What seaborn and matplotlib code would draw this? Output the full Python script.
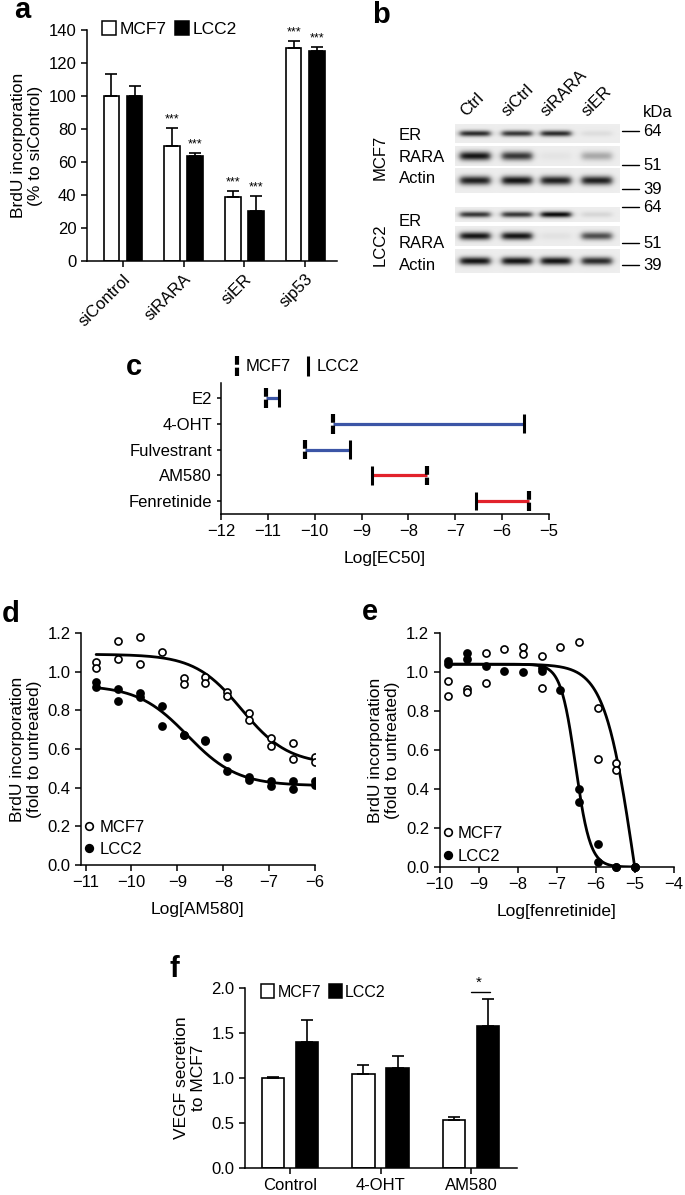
import numpy as np
import pandas as pd
import seaborn as sns
import matplotlib.pyplot as plt
from matplotlib.patches import Patch
from matplotlib.lines import Line2D

# panel a - BrdU incorporation after siRNA knockdown
si_groups = ["siControl", "siRARA", "siER", "sip53"]
a_mcf7 = [100, 70, 39, 129]
a_mcf7_err = [13.5, 10.5, 3.5, 4.5]
a_lcc2 = [100, 63.5, 30.5, 127.5]
a_lcc2_err = [6, 2, 9, 2.5]
a_stars_mcf7 = ["", "***", "***", "***"]
a_stars_lcc2 = ["", "***", "***", "***"]

# panel b - western blot band intensities (0 none .. 1 strong), lanes x rows
lanes = ["Ctrl", "siCtrl", "siRARA", "siER"]
blot_rows = ["ER", "RARA", "Actin"]
blot_mcf7 = [[0.85, 0.8, 0.85, 0.07],
             [0.95, 0.8, 0.04, 0.3],
             [0.9, 0.95, 0.9, 0.9]]
blot_lcc2 = [[0.8, 0.8, 1.0, 0.1],
             [0.95, 0.95, 0.05, 0.7],
             [0.95, 0.95, 0.95, 0.85]]
kda_mcf7 = ["64", "51", "39"]
kda_lcc2 = ["64", "51", "39"]

# panel c - log EC50 per drug
drugs = ["E2", "4-OHT", "Fulvestrant", "AM580", "Fenretinide"]
ec50_mcf7 = [-11.05, -9.6, -10.2, -7.6, -5.43]
ec50_lcc2 = [-10.76, -5.54, -9.25, -8.78, -6.56]
drug_target = ["ER", "ER", "ER", "RA", "RA"]

# panel d - AM580 dose response (two replicates)
am580_conc = [-10.77, -10.30, -9.82, -9.34, -8.86, -8.39, -7.91, -7.43, -6.95, -6.48, -6.0]
d_mcf7_r1 = [1.05, 1.16, 1.18, 1.10, 0.965, 0.97, 0.893, 0.787, 0.657, 0.632, 0.557]
d_mcf7_r2 = [1.02, 1.065, 1.04, np.nan, 0.936, 0.94, 0.876, 0.75, 0.618, 0.549, 0.531]
d_lcc2_r1 = [0.948, 0.91, 0.888, 0.823, 0.674, 0.649, 0.557, 0.454, 0.437, 0.437, 0.432]
d_lcc2_r2 = [0.919, 0.85, 0.871, 0.721, 0.67, 0.64, 0.485, 0.44, 0.407, 0.394, 0.416]
# fitted curve params: top, bottom, logEC50, hill
d_fit_mcf7 = (1.09, 0.52, -7.6, 0.85)
d_fit_lcc2 = (0.93, 0.41, -8.78, 0.8)

# panel e - fenretinide dose response
fen_conc = [-9.77, -9.30, -8.82, -8.34, -7.86, -7.39, -6.91, -6.43, -5.95, -5.48, -5.0]
e_mcf7_r1 = [0.955, 0.914, 1.10, 1.118, 1.126, 1.08, 1.128, 1.154, 0.815, 0.533, 0.0]
e_mcf7_r2 = [0.878, 0.90, 0.944, np.nan, 1.092, 0.92, np.nan, np.nan, 0.555, 0.50, 0.0]
e_lcc2_r1 = [1.054, 1.097, 1.03, 1.007, 1.0, 1.02, 0.909, 0.40, 0.118, 0.0, 0.0]
e_lcc2_r2 = [1.041, 1.067, np.nan, np.nan, np.nan, 1.003, np.nan, 0.331, 0.024, 0.0, np.nan]
e_fit_mcf7 = (1.04, -1.0, -5.02, 1.15)
e_fit_lcc2 = (1.04, 0.0, -6.52, 2.3)

# panel f - VEGF secretion
f_groups = ["Control", "4-OHT", "AM580"]
f_mcf7 = [1.0, 1.05, 0.535]
f_mcf7_err = [0.01, 0.09, 0.035]
f_lcc2 = [1.405, 1.11, 1.575]
f_lcc2_err = [0.245, 0.14, 0.30]

BLUE = "#3b55a6"
RED = "#e2222b"

sns.set_theme(style="ticks", rc={
    "axes.edgecolor": "black", "axes.linewidth": 1.1,
    "xtick.color": "black", "ytick.color": "black",
    "text.color": "black", "axes.labelcolor": "black",
    "xtick.major.size": 4, "ytick.major.size": 4,
    "xtick.major.width": 1.1, "ytick.major.width": 1.1,
    "font.size": 12, "axes.labelsize": 12.5,
    "xtick.labelsize": 12, "ytick.labelsize": 12,
})
plt.rcParams["font.family"] = ["Liberation Sans", "DejaVu Sans"]

W, H = 685, 1195
fig = plt.figure(figsize=(W / 100, H / 100), dpi=100)


def px_axes(left, top, right, bottom):
    return fig.add_axes([left / W, 1 - bottom / H, (right - left) / W, (bottom - top) / H])


def four_pl(x, p):
    top, bottom, ec, hill = p
    return bottom + (top - bottom) / (1 + 10 ** (hill * (x - ec)))


def bar_panel(ax, groups, v1, e1, v2, e2, width, gap):
    df = pd.DataFrame({"group": groups * 2,
                       "line": ["MCF7"] * len(groups) + ["LCC2"] * len(groups),
                       "value": v1 + v2})
    sns.barplot(data=df, x="group", y="value", hue="line", hue_order=["MCF7", "LCC2"],
                palette=["white", "black"], edgecolor="black", linewidth=1.2,
                width=width, gap=gap, saturation=1, errorbar=None, legend=False, ax=ax)
    bars = sorted(ax.patches, key=lambda p: p.get_x())
    vals = [v for pair in zip(v1, v2) for v in pair]
    errs = [e for pair in zip(e1, e2) for e in pair]
    xs = [b.get_x() + b.get_width() / 2 for b in bars]
    ax.errorbar(xs, vals, yerr=[np.zeros(len(errs)), errs], fmt="none",
                ecolor="black", elinewidth=1.2, capsize=4, capthick=1.2)
    ax.set_xlabel("")
    sns.despine(ax=ax)
    return xs, vals, errs


def legend_squares(ax, anchor, fs):
    handles = [Patch(facecolor="white", edgecolor="black", lw=1.1),
               Patch(facecolor="black", edgecolor="black", lw=1.1)]
    ax.legend(handles, ["MCF7", "LCC2"], ncol=2, loc="upper left", bbox_to_anchor=anchor,
              frameon=False, handlelength=0.8, handleheight=0.9, handletextpad=0.2,
              columnspacing=0.5, borderaxespad=0, borderpad=0, fontsize=fs)


# ---------- a
ax_a = px_axes(87, 30, 337, 261)
xs, vals, errs = bar_panel(ax_a, si_groups, a_mcf7, a_mcf7_err, a_lcc2, a_lcc2_err, 0.76, 0.32)
stars = [s for pair in zip(a_stars_mcf7, a_stars_lcc2) for s in pair]
for x, v, e, s in zip(xs, vals, errs, stars):
    if s:
        ax_a.text(x, v + e + 1.5, s, ha="center", va="bottom", fontsize=9)
ax_a.set_ylim(0, 140)
ax_a.set_yticks(range(0, 141, 20))
ax_a.set_xlim(-0.593, 3.525)
ax_a.set_xticks(range(len(si_groups)))
ax_a.set_xticklabels(si_groups, rotation=45, ha="right", rotation_mode="anchor")
ax_a.set_ylabel("BrdU incorporation\n(% to siControl)")
legend_squares(ax_a, (0.06, 1.04), 12.5)

# ---------- c
ax_c = px_axes(221, 383, 549, 514)
for i, (m, l, t) in enumerate(zip(ec50_mcf7, ec50_lcc2, drug_target)):
    col = BLUE if t == "ER" else RED
    ax_c.hlines(i, m, l, color=col, lw=2.3, zorder=2)
    ax_c.vlines(l, i - 0.36, i + 0.36, color="black", lw=2.2, zorder=3)
    ax_c.vlines(m, i - 0.38, i + 0.38, color="black", lw=3, linestyles=(0, (2.1, 0.7)), zorder=3)
ax_c.set_xlim(-12, -5)
ax_c.set_ylim(4.5, -0.58)
ax_c.set_yticks(range(len(drugs)))
ax_c.set_yticklabels(drugs)
ax_c.set_xticks(range(-12, -4))
ax_c.tick_params(axis="y", length=3)
ax_c.set_xlabel("Log[EC50]", labelpad=8)
sns.despine(ax=ax_c)

# ---------- d
ax_d = px_axes(81, 633, 315, 865)
for ys, face in [(d_mcf7_r1, "white"), (d_mcf7_r2, "white"), (d_lcc2_r1, "black"), (d_lcc2_r2, "black")]:
    sns.scatterplot(x=am580_conc, y=ys, color=face, edgecolor="black", linewidth=1.2,
                    s=26, zorder=3, ax=ax_d)
xfit = np.linspace(am580_conc[0], am580_conc[-1], 200)
for p in (d_fit_mcf7, d_fit_lcc2):
    sns.lineplot(x=xfit, y=four_pl(xfit, p), color="black", lw=2, estimator=None, zorder=2, ax=ax_d)
ax_d.set_xlim(-11.1, -6)
ax_d.set_ylim(0, 1.2)
ax_d.set_xticks(range(-11, -5))
ax_d.set_yticks(np.arange(0, 1.21, 0.2))
ax_d.yaxis.set_major_formatter(plt.FormatStrFormatter("%.1f"))
ax_d.set_xlabel("Log[AM580]", labelpad=8)
ax_d.set_ylabel("BrdU incorporation\n(fold to untreated)")
sns.despine(ax=ax_d)

# ---------- e
ax_e = px_axes(439.5, 633, 674, 867)
for ys, face in [(e_mcf7_r1, "white"), (e_mcf7_r2, "white"), (e_lcc2_r1, "black"), (e_lcc2_r2, "black")]:
    sns.scatterplot(x=fen_conc, y=ys, color=face, edgecolor="black", linewidth=1.2,
                    s=26, zorder=3, clip_on=False, ax=ax_e)
xfit = np.linspace(fen_conc[0], fen_conc[-1], 300)
for p in (e_fit_mcf7, e_fit_lcc2):
    sns.lineplot(x=xfit, y=np.clip(four_pl(xfit, p), 0, None), color="black", lw=2,
                 estimator=None, zorder=2, ax=ax_e)
ax_e.set_xlim(-10, -4)
ax_e.set_ylim(0, 1.2)
ax_e.set_xticks(range(-10, -3))
ax_e.set_yticks(np.arange(0, 1.21, 0.2))
ax_e.yaxis.set_major_formatter(plt.FormatStrFormatter("%.1f"))
ax_e.set_xlabel("Log[fenretinide]", labelpad=8)
ax_e.set_ylabel("BrdU incorporation\n(fold to untreated)")
sns.despine(ax=ax_e)

circ_handles = [Line2D([], [], ls="none", marker="o", ms=5.5, mfc="white", mec="black", mew=1.2),
                Line2D([], [], ls="none", marker="o", ms=5.5, mfc="black", mec="black", mew=1.2)]
for ax, anchor in [(ax_d, (0.0, 0.02)), (ax_e, (0.0, 0.0))]:
    ax.legend(circ_handles, ["MCF7", "LCC2"], loc="lower left", bbox_to_anchor=anchor,
              frameon=False, handlelength=0.6, handletextpad=0.3, labelspacing=0.45,
              borderaxespad=0, borderpad=0.2, fontsize=12)

# ---------- f
ax_f = px_axes(245, 988, 517, 1168)
xs, vals, errs = bar_panel(ax_f, f_groups, f_mcf7, f_mcf7_err, f_lcc2, f_lcc2_err, 0.752, 0.35)
ax_f.set_ylim(0, 2)
ax_f.set_yticks(np.arange(0, 2.01, 0.5))
ax_f.yaxis.set_major_formatter(plt.FormatStrFormatter("%.1f"))
ax_f.set_xlim(-0.497, 2.508)
ax_f.set_ylabel("VEGF secretion\nto MCF7")
legend_squares(ax_f, (0.06, 1.02), 11.5)
# significance mark over AM580
ax_f.plot([2.0, xs[-1] + 0.02], [1.955, 1.955], color="black", lw=1)
ax_f.text((2.0 + xs[-1]) / 2 - 0.01, 1.985, "*", ha="center", va="bottom", fontsize=11)

# ---------- overlay (panel letters, b blot, c legend)
ov = fig.add_axes([0, 0, 1, 1])
ov.axis("off")

lane_px = [475, 517, 556, 597]
strips_mcf7 = [(124, 143, 3.0), (146, 166, 4.5), (168, 193, 4.5)]
strips_lcc2 = [(207, 222, 3.0), (226, 246, 4.0), (249, 273, 4.0)]
for rows, strips in [(blot_mcf7, strips_mcf7), (blot_lcc2, strips_lcc2)]:
    for inten, (top, bot, thick) in zip(rows, strips):
        gx = np.linspace(455, 620, 330)
        gy = np.linspace(top, bot, 50)
        X, Y = np.meshgrid(gx, gy)
        img = np.full(X.shape, 0.07)
        cy = (top + bot) / 2
        for cx, v in zip(lane_px, inten):
            prof = 1 / (1 + np.exp((np.abs(X - cx) - 15) / 1.8)) * np.exp(-((Y - cy) / thick) ** 2)
            img += v * 0.9 * prof
        ov.imshow(np.clip(img, 0, 1), extent=(455, 620, bot, top), cmap="gray_r",
                  vmin=0, vmax=1, aspect="auto", origin="upper", interpolation="bilinear")

for lab, y in zip(blot_rows, [135, 157, 178]):
    ov.text(399, y, lab, ha="left", va="center", fontsize=12)
for lab, y in zip(blot_rows, [221, 243, 265]):
    ov.text(399, y, lab, ha="left", va="center", fontsize=12)
ov.text(380, 157, "MCF7", rotation=90, ha="center", va="center", fontsize=12)
ov.text(380, 245, "LCC2", rotation=90, ha="center", va="center", fontsize=12)
for lab, x in zip(lanes, lane_px):
    ov.text(x - 7, 119, lab, rotation=45, ha="left", va="bottom", rotation_mode="anchor", fontsize=12)
ov.text(643, 112, "kDa", ha="left", va="center", fontsize=12)
for lab, y in zip(kda_mcf7 + kda_lcc2, [131, 165, 189, 207, 243, 265]):
    ov.plot([622, 639], [y, y], color="black", lw=1)
    ov.text(643, y, lab, ha="left", va="center", fontsize=12)

# c legend
ov.vlines(237, 356, 376, color="black", lw=3, linestyles=(0, (2.1, 0.7)))
ov.text(246, 366, "MCF7", ha="left", va="center", fontsize=12)
ov.vlines(308, 356, 376, color="black", lw=2.2)
ov.text(317, 366, "LCC2", ha="left", va="center", fontsize=12)

for lab, (x, y) in zip("abcdef", [(14, 18), (372, 23), (126, 375), (2, 622), (362, 620), (170, 977)]):
    ov.text(x, y, lab, fontsize=21, fontweight="bold", ha="left", va="baseline")

ov.set_xlim(0, W)
ov.set_ylim(H, 0)

fig.savefig("out.png", dpi=100)
